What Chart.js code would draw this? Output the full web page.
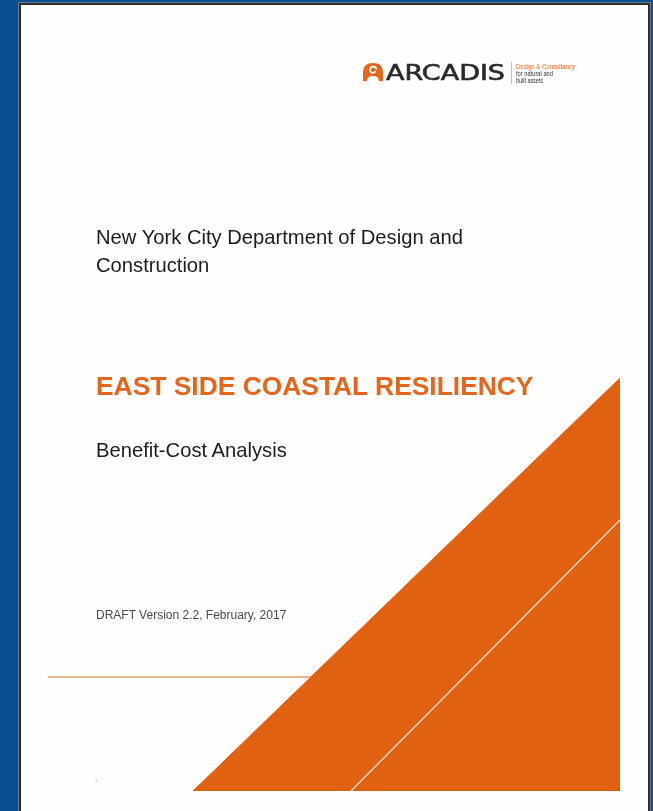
<!DOCTYPE html>
<html>
<head>
<meta charset="utf-8">
<script src="https://cdn.jsdelivr.net/npm/chart.js@4.4.1/dist/chart.umd.min.js"></script>
<style>
  html, body { margin: 0; padding: 0; }
  body { width: 653px; height: 811px; background: #0a4f94; overflow: hidden; position: relative; }
  #page {
    position: absolute; left: 19px; top: 3px; width: 627px; height: 830px;
    background: #fffefc; border: 2px solid #2e2e2e; box-shadow: 0 0 0 1px #6b7d90;
  }
  #chartCanvas, #labels { position: absolute; left: 0; top: 0; }
  #labels { font-family: "Liberation Sans", Arial, sans-serif; }
</style>
</head>
<body>
<div id="page"></div>
<canvas id="chartCanvas" width="653" height="811"></canvas>
<svg id="labels" width="653" height="811" viewBox="0 0 653 811">
  <!-- logo -->
  <path d="M363,81 L363,72 Q363,63 373,63 Q383,63 383,72 L383,81 L379,81 Q379,76 373,76 Q367,76 367,81 Z" fill="#e2661f"/>
  <path d="M376.5,69.5 A3.2,3.2 0 1 0 373,73 A2,2 0 0 0 375,71" fill="none" stroke="#fff" stroke-width="1.6"/>
  <text x="386" y="80" font-family="DejaVu Sans, sans-serif" font-size="20.5" fill="#2a2a2a" stroke="#2a2a2a" stroke-width="0.6" textLength="119" lengthAdjust="spacingAndGlyphs">ARCADIS</text>
  <line x1="511.5" y1="62" x2="511.5" y2="84" stroke="#e8a070" stroke-width="0.8"/>
  <text x="516" y="68.5" font-family="Liberation Sans Narrow, Liberation Sans, sans-serif" font-size="7" fill="#e2661f" textLength="59" lengthAdjust="spacingAndGlyphs">Design &amp; Consultancy</text>
  <text x="516" y="76" font-family="Liberation Sans Narrow, Liberation Sans, sans-serif" font-size="7" fill="#333" textLength="37" lengthAdjust="spacingAndGlyphs">for natural and</text>
  <text x="516" y="83" font-family="Liberation Sans Narrow, Liberation Sans, sans-serif" font-size="7" fill="#333" textLength="27" lengthAdjust="spacingAndGlyphs">built assets</text>

  <text x="96" y="244" font-size="20.2" fill="#1c1c1c">New York City Department of Design and</text>
  <text x="96" y="272" font-size="20.2" fill="#1c1c1c">Construction</text>
  <text x="96" y="395" font-size="26.4" font-weight="bold" fill="#e2661f">EAST SIDE COASTAL RESILIENCY</text>
  <text x="96" y="457" font-size="20.2" fill="#1c1c1c">Benefit-Cost Analysis</text>
  <text x="96" y="619" font-size="12" fill="#4a4a4a">DRAFT Version 2.2, February, 2017</text>
  <text x="95" y="781" font-size="9" fill="#777">.</text>
</svg>
<script>
// page is mapped 1:1 onto linear scales, y grows downward
const wedgeX = [193, 620];
const wedgeY = [791, 378];
const wedgeBase = 791;
const stripeX = [351, 620];
const stripeY = [791, 520];
const ruleX = [48, 311];
const ruleY = [677, 677];

function toPoints(xs, ys) {
  return xs.map((x, i) => ({ x: x, y: ys[i] }));
}

const ctx = document.getElementById('chartCanvas').getContext('2d');

const chartData = {
  datasets: [
    {
      label: 'wedge',
      data: toPoints(wedgeX, wedgeY),
      showLine: true,
      borderColor: '#e06112',
      borderWidth: 1,
      backgroundColor: '#e06112',
      fill: { value: wedgeBase },
      pointRadius: 0,
      order: 3
    },
    {
      label: 'stripe',
      data: toPoints(stripeX, stripeY),
      showLine: true,
      borderColor: '#f6e6d6',
      borderWidth: 1.2,
      pointRadius: 0,
      order: 1
    },
    {
      label: 'rule',
      data: toPoints(ruleX, ruleY),
      showLine: true,
      borderColor: '#e2661f',
      borderWidth: 1,
      pointRadius: 0,
      order: 2
    }
  ]
};

const config = {
  type: 'scatter',
  data: chartData,
  options: {
    responsive: false,
    animation: false,
    layout: { padding: 0 },
    plugins: { legend: { display: false }, tooltip: { enabled: false } },
    scales: {
      x: { type: 'linear', display: false, min: 0, max: 653 },
      y: { type: 'linear', display: false, min: 0, max: 811, reverse: true }
    }
  }
};

const myChart = new Chart(ctx, config);
</script>
</body>
</html>
